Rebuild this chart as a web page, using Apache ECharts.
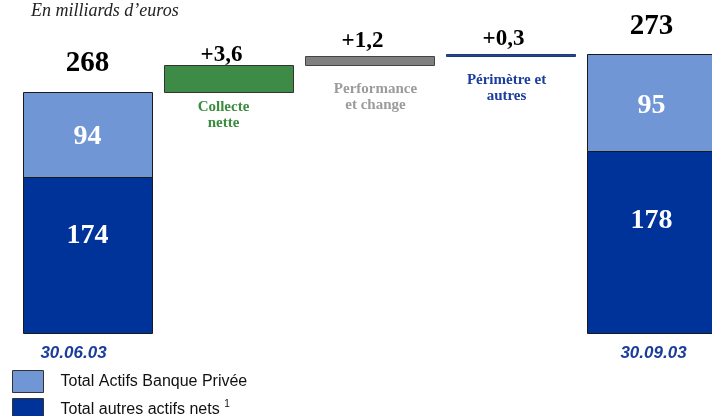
<!DOCTYPE html>
<html>
<head>
<meta charset="utf-8">
<script src="https://cdn.jsdelivr.net/npm/echarts@6/dist/echarts.min.js"></script>
<style>
  html, body { margin: 0; padding: 0; background: #ffffff; }
  #chart { width: 712px; height: 416px; }
</style>
</head>
<body>
<div id="chart"></div>
<script>
// ---- Data ----
const categories = ['30.06.03', 'Collecte nette', 'Performance et change', 'Périmètre et autres', '30.09.03'];
const dateLabels = ['30.06.03', '30.09.03'];
const totals = [268, 273];
const privateBankingAssets = [94, 95];     // Total Actifs Banque Privée
const otherNetAssets = [174, 178];         // Total autres actifs nets
const deltaNames = ['Collecte\nnette', 'Performance\net change', 'Périmètre et\nautres'];
const deltaValues = [3.6, 1.2, 0.3];
const seriesNames = ['Total Actifs Banque Privée', 'Total autres actifs nets'];

// truncated value axis (the reference cuts the bars' base)
const AXIS_MIN = 235.6;
const AXIS_MAX = 280.3;

// ---- Styles ----
const COLOR_LIGHT = '#7196d6';
const COLOR_DARK = '#003399';
const deltaFill = ['#3e8a47', '#808080', '#27468c'];
const deltaStroke = ['#333333', '#444444', '#1f3a78'];
const deltaText = ['#3b8c3f', '#9b9b9b', '#1b3d9c'];
const SERIF = '"Liberation Serif", "Times New Roman", serif';
const SANS = '"Liberation Sans", Arial, sans-serif';
const BAR_RATIO = 0.915;

const totalIdx = [0, categories.length - 1];
const lowerData = totals.map((t, i) => [totalIdx[i], t, otherNetAssets[i], i]);
const upperData = totals.map((t, i) => [totalIdx[i], t, privateBankingAssets[i], i]);
let running = totals[0];
const waterfallData = deltaValues.map((d, i) => {
  const s = running; running += d;
  return [i + 1, s, running, d, i];
});

function fmt(v) { return (v >= 0 ? '+' : '') + v.toFixed(1).replace('.', ','); }
function crisp(v) { return Math.round(v) + 0.5; }

function renderLower(params, api) {
  const x = api.value(0), total = api.value(1), part = api.value(2), k = api.value(3);
  const bw = api.size([1, 0])[0] * BAR_RATIO;
  const pB = api.coord([x, AXIS_MIN]);
  const pT = api.coord([x, total]);
  const h = pB[1] - pT[1];
  const segH = h * part / total;
  const y0 = pB[1] - segH;
  return {
    type: 'group',
    children: [
      { type: 'rect', shape: { x: crisp(pB[0] - bw / 2), y: crisp(y0), width: Math.round(bw), height: Math.round(segH) },
        style: { fill: api.visual('color'), stroke: '#1a1a1a', lineWidth: 1 } },
      { type: 'text', style: { text: String(part), x: pB[0], y: y0 + segH * 0.38, align: 'center', verticalAlign: 'middle',
        fill: '#ffffff', font: 'bold 28px ' + SERIF } },
      { type: 'text', style: { text: dateLabels[k], x: pB[0] + (k === 0 ? -14 : 2), y: pB[1] + 20, align: 'center', verticalAlign: 'middle',
        fill: '#1a3d9c', font: 'italic bold 17px ' + SANS } }
    ]
  };
}

function renderUpper(params, api) {
  const x = api.value(0), total = api.value(1), part = api.value(2);
  const bw = api.size([1, 0])[0] * BAR_RATIO;
  const pB = api.coord([x, AXIS_MIN]);
  const pT = api.coord([x, total]);
  const h = pB[1] - pT[1];
  const segH = h * part / total;
  return {
    type: 'group',
    children: [
      { type: 'rect', shape: { x: crisp(pB[0] - bw / 2), y: crisp(pT[1]), width: Math.round(bw), height: Math.round(segH) },
        style: { fill: api.visual('color'), stroke: '#1a1a1a', lineWidth: 1 } },
      { type: 'text', style: { text: String(part), x: pB[0], y: pT[1] + segH * 0.53, align: 'center', verticalAlign: 'middle',
        fill: '#ffffff', font: 'bold 28px ' + SERIF } },
      { type: 'text', style: { text: String(total), x: pB[0], y: pT[1] - 28, align: 'center', verticalAlign: 'middle',
        fill: '#000000', font: 'bold 29px ' + SERIF } }
    ]
  };
}

function renderDelta(params, api) {
  const x = api.value(0), s = api.value(1), e = api.value(2), d = api.value(3), k = api.value(4);
  const bw = api.size([1, 0])[0] * BAR_RATIO;
  const pS = api.coord([x, s]);
  const pE = api.coord([x, e]);
  const top = Math.min(pS[1], pE[1]);
  const bottom = Math.max(pS[1], pE[1]);
  const h = Math.max(bottom - top, 2);
  return {
    type: 'group',
    children: [
      { type: 'rect', shape: { x: crisp(pS[0] - bw / 2), y: crisp(top), width: Math.round(bw), height: Math.round(h) },
        style: { fill: deltaFill[k], stroke: deltaStroke[k], lineWidth: 1 } },
      { type: 'text', style: { text: fmt(d), x: pS[0] - 7, y: top - (k === 0 ? 10 : 15), align: 'center', verticalAlign: 'middle',
        fill: '#000000', font: 'bold 23px ' + SERIF } },
      { type: 'text', style: { text: deltaNames[k], x: pS[0] + (k === 0 ? -5 : (k === 1 ? 6 : -4)), y: top + h + (k === 0 ? 7 : 16), align: 'center', verticalAlign: 'top',
        fill: deltaText[k], font: 'bold 15px ' + SERIF, lineHeight: 16 } }
    ]
  };
}

const chart = echarts.init(document.getElementById('chart'), null, { renderer: 'canvas' });
chart.setOption({
  animation: false,
  backgroundColor: '#ffffff',
  title: {
    text: 'En milliards d’euros',
    left: 26, top: -3,
    textStyle: { fontFamily: SERIF, fontStyle: 'italic', fontWeight: 'normal', fontSize: 18, color: '#222222' }
  },
  legend: {
    orient: 'vertical',
    left: 7, top: 365, height: 80,
    itemWidth: 31, itemHeight: 22, itemGap: 5,
    icon: 'rect',
    data: seriesNames,
    itemStyle: { borderColor: '#333333', borderWidth: 1 },
    formatter: function (name) {
      return name === seriesNames[1] ? '{t|' + name + ' }{s|1}' : '{t|' + name + '}';
    },
    textStyle: {
      padding: [0, 0, 0, 12],
      rich: {
        t: { fontFamily: SANS, fontSize: 16, color: '#111111', lineHeight: 20 },
        s: { fontFamily: SANS, fontSize: 10, color: '#111111', verticalAlign: 'top', lineHeight: 20 }
      }
    }
  },
  grid: { left: 17, top: 0, width: 705, height: 333, containLabel: false, outerBoundsMode: 'none' },
  xAxis: {
    type: 'category', data: categories, show: false
  },
  yAxis: {
    type: 'value', min: AXIS_MIN, max: AXIS_MAX, show: false
  },
  series: [
    { name: seriesNames[1], type: 'custom', itemStyle: { color: COLOR_DARK }, renderItem: renderLower,
      data: lowerData, encode: { x: 0, y: 1 } },
    { name: seriesNames[0], type: 'custom', itemStyle: { color: COLOR_LIGHT }, renderItem: renderUpper,
      data: upperData, encode: { x: 0, y: 1 } },
    { name: 'variation', type: 'custom', renderItem: renderDelta,
      data: waterfallData, encode: { x: 0, y: [1, 2] } }
  ]
});
</script>
</body>
</html>
